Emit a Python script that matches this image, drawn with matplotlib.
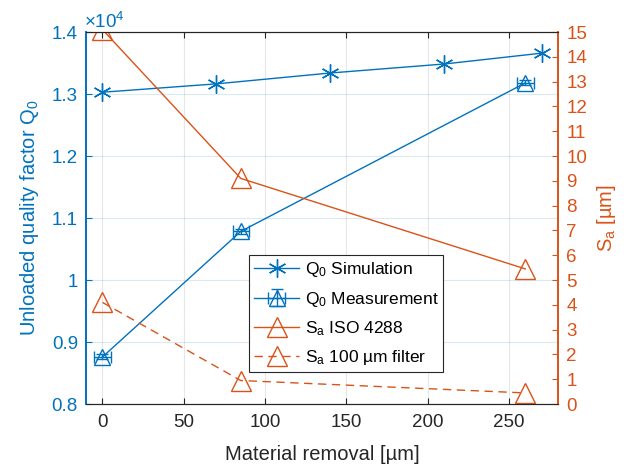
import numpy as np
import matplotlib.pyplot as plt
from matplotlib.ticker import FuncFormatter

plt.rcParams["font.family"] = ["Liberation Sans", "DejaVu Sans"]
plt.rcParams["mathtext.fontset"] = "custom"
plt.rcParams["mathtext.rm"] = "Liberation Sans"
plt.rcParams["mathtext.it"] = "Liberation Sans:italic"

BLUE = "#0072BD"
ORANGE = "#D95319"

# data
sim_x = [0, 70, 140, 210, 270]
sim_q = [13030, 13165, 13340, 13485, 13660]

meas_x = [0, 85, 260]
meas_q = [8760, 10785, 13180]
meas_xerr = [5, 5, 5]
meas_qerr = [40, 40, 40]

sa_x = [0, 85, 260]
sa_iso = [15.1, 9.1, 5.45]
sa_filter = [4.1, 0.95, 0.45]

fig, ax = plt.subplots(figsize=(6.34, 4.65), dpi=100)
fig.subplots_adjust(left=0.136, right=0.88, top=0.931, bottom=0.131)
ax2 = ax.twinx()

ax.plot(sim_x, sim_q, color=BLUE, lw=1, marker=(6, 2, 0), ms=13, mew=1)
h_sim_leg, = ax.plot([], [], color=BLUE, lw=1, marker=(6, 2, 0), ms=13, mew=1)
h_meas = ax.errorbar(meas_x, meas_q, xerr=meas_xerr, yerr=meas_qerr, color=BLUE,
                     lw=1, marker="^", ms=11, mfc="none", mew=1, capsize=4, elinewidth=1)

h_iso, = ax2.plot(sa_x, sa_iso, color=ORANGE, lw=1, marker="^", ms=15, mfc="none", mew=1)
h_filt, = ax2.plot(sa_x, sa_filter, color=ORANGE, lw=1, ls=(0, (6, 4)), marker="^",
                   ms=15, mfc="none", mew=1)

ax.set_xlim(-10, 280)
ax.set_ylim(8000, 14000)
ax2.set_ylim(0, 15)
ax.set_xticks([0, 50, 100, 150, 200, 250])
ax.set_yticks(np.arange(8000, 14001, 1000))
ax.yaxis.set_major_formatter(FuncFormatter(lambda v, p: f"{v / 1e4:g}"))
ax2.set_yticks(range(0, 16))

# grid
for yv in np.arange(8000, 14001, 1000):
    ax.axhline(yv, color=BLUE, alpha=0.15, lw=0.8, zorder=0)
for xv in [0, 50, 100, 150, 200, 250]:
    ax.axvline(xv, color="#888888", alpha=0.2, lw=0.8, zorder=0)

fs = 14.5
tfs = 13.5
ax.set_xlabel("Material removal [µm]", fontsize=fs, color="#262626", labelpad=10)
ax.set_ylabel("Unloaded quality factor $\\mathregular{Q_0}$", fontsize=fs, color=BLUE, labelpad=8)
ax2.set_ylabel("$\\mathregular{S_a}$ [µm]", fontsize=fs, color=ORANGE, labelpad=6)
ax.text(-0.005, 1.0, "×10$^{\\mathregular{4}}$", transform=ax.transAxes, color=BLUE,
        fontsize=13.5, ha="left", va="bottom")

ax.tick_params(axis="x", direction="in", labelsize=tfs, colors="#262626", top=True, length=4, pad=7)
ax.tick_params(axis="y", direction="in", labelsize=tfs, colors=BLUE, length=4, pad=6)
ax2.tick_params(axis="y", direction="in", labelsize=tfs, colors=ORANGE, length=4, pad=6)
for a in (ax, ax2):
    a.spines["top"].set_color("#262626")
    a.spines["bottom"].set_color("#262626")
    a.spines["left"].set_color(BLUE)
    a.spines["right"].set_color(ORANGE)
    a.spines["left"].set_linewidth(1.2)
    a.spines["right"].set_linewidth(1.2)

leg = ax2.legend([h_sim_leg, h_meas, h_iso, h_filt],
                 ["$\\mathregular{Q_0}$ Simulation", "$\\mathregular{Q_0}$ Measurement",
                  "$\\mathregular{S_a}$ ISO 4288", "$\\mathregular{S_a}$ 100 µm filter"],
                 loc="lower left", bbox_to_anchor=(0.345, 0.085), fontsize=12.5,
                 fancybox=False, edgecolor="#262626", framealpha=1, borderpad=0.3,
                 labelspacing=0.6, handlelength=2.6, handletextpad=0.3, borderaxespad=0)
leg.get_frame().set_linewidth(0.8)

fig.savefig("out.png", dpi=100)
